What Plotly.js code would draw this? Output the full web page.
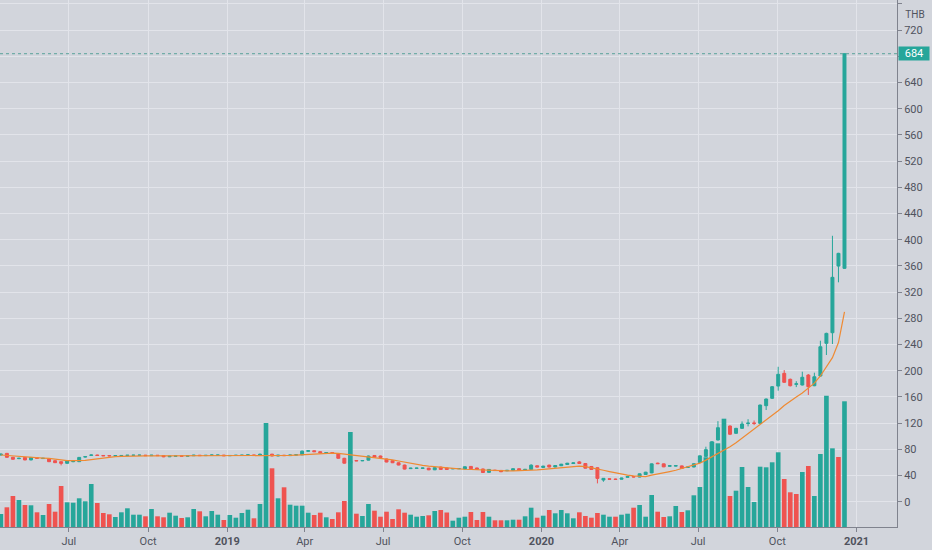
<!DOCTYPE html>
<html>
<head>
<meta charset="utf-8">
<script src="https://cdn.plot.ly/plotly-3.0.1.min.js"></script>
<style>
html,body{margin:0;padding:0;background:#d2d5dc;}
#chart{width:932px;height:550px;}
</style>
</head>
<body>
<div id="chart"></div>
<script>
// Weekly bars, first bar week of 2018-04-13, 141 bars
const firstWeek = '2018-04-13';
const barCount = 141;

const openP = [71.3,73.8,67.8,65.8,67.7,63.8,67.0,65.9,65.2,62.6,61.1,58.6,61.1,61.1,68.2,70.8,71.3,70.6,70.4,70.0,
70.2,70.4,70.8,70.8,71.1,70.3,71.0,70.5,68.6,69.5,70.0,69.6,70.2,71.0,70.4,70.8,71.0,71.2,70.2,70.6,
70.6,71.0,71.5,70.5,72.0,72.6,69.8,71.0,70.4,71.3,71.5,77.0,77.8,76.4,74.4,75.0,73.5,66.3,58.8,62.9,
62.4,63.5,70.6,69.8,65.2,62.6,59.5,56.0,50.5,51.0,51.0,51.3,48.7,52.9,51.5,50.2,50.3,50.0,53.9,51.5,
50.0,44.8,48.2,47.8,47.2,47.8,50.4,48.9,49.3,54.9,52.3,55.9,53.0,54.9,56.8,58.3,60.8,58.3,53.8,51.9,
33.1,35.0,34.6,34.3,37.2,38.5,37.6,41.5,44.0,58.9,57.8,54.2,54.4,54.7,52.3,53.0,60.0,69.2,79.0,94.2,
112.5,115.6,104.4,112.0,119.4,120.3,119.7,146.6,157.9,176.6,196.0,186.9,179.2,178.2,193.4,177.1,191.9,241.8,258.0,359.8,
356.3];
const highP = [73.5,74.5,68.5,67.0,68.2,68.3,67.6,66.8,65.8,63.2,61.6,63.2,62.3,68.2,69.4,71.9,71.8,71.1,70.9,70.8,
70.9,71.3,71.5,71.6,71.4,71.4,71.3,70.9,69.9,70.4,70.3,70.5,71.5,71.3,71.2,71.8,71.6,71.4,71.0,71.2,
71.4,72.0,71.8,73.5,74.0,73.0,71.4,71.4,71.6,72.0,78.0,78.5,78.2,76.8,75.4,75.4,74.0,67.0,63.5,63.5,
63.4,70.4,71.2,70.4,65.7,63.0,60.0,56.6,51.8,51.8,51.9,51.6,52.5,53.4,52.0,51.0,51.0,53.8,54.4,52.0,
50.5,49.8,48.6,48.2,48.3,50.8,50.9,49.8,57.2,55.4,54.8,56.4,55.6,57.8,59.3,59.8,62.2,58.8,54.3,52.4,
36.2,35.6,35.2,36.6,39.1,39.0,43.1,45.6,58.3,59.6,58.3,55.4,55.5,55.2,53.4,58.5,70.6,84.0,92.2,123.0,
124.0,116.5,112.8,122.6,126.0,124.0,148.2,157.5,176.5,206.0,201.0,188.0,184.0,198.5,195.0,197.0,245.8,258.0,406.0,380.0,
684.5];
const lowP = [70.6,67.2,64.3,65.0,63.3,63.2,65.8,65.4,60.6,59.2,55.5,58.0,60.4,60.8,67.6,70.2,70.1,69.8,69.6,69.7,
69.8,70.0,70.4,70.5,69.9,70.0,70.0,68.0,68.2,69.2,69.2,69.3,69.9,70.0,70.1,70.5,70.6,69.8,69.8,70.2,
70.3,70.6,70.2,70.2,71.4,69.4,69.5,70.0,70.1,71.0,71.2,76.6,76.0,74.2,74.0,74.0,65.8,58.2,58.0,62.0,
62.0,63.0,67.6,67.0,60.2,59.0,55.6,49.2,50.0,50.6,50.6,48.2,48.3,48.8,48.9,49.8,49.9,49.6,50.0,49.0,
43.8,44.3,47.2,45.2,46.8,47.4,47.4,48.6,49.0,52.5,52.0,52.4,52.6,54.5,56.4,57.9,58.0,50.8,48.8,28.0,
30.5,33.8,33.6,33.9,36.8,37.3,37.2,41.1,43.6,57.6,52.8,53.8,54.0,50.3,51.9,52.6,59.6,68.6,78.5,93.6,
110.0,101.8,103.6,111.3,115.0,117.0,119.0,140.0,157.0,169.5,181.5,176.0,175.0,177.5,163.0,176.4,191.0,224.0,240.8,335.0,
355.5];
const closeP = [72.6,67.8,64.8,66.3,63.8,67.6,66.3,66.3,61.1,59.6,58.6,62.6,61.7,67.7,68.8,71.3,70.6,70.1,70.0,70.4,
70.6,71.0,71.0,71.1,70.3,71.0,70.4,68.6,69.5,70.0,69.6,70.2,71.0,70.4,70.8,71.3,71.2,70.2,70.6,70.9,
71.1,71.5,70.5,72.5,73.0,69.8,71.0,70.4,71.3,71.6,77.2,77.8,76.4,74.6,75.0,74.4,66.3,58.8,62.5,62.4,
62.9,69.8,68.0,67.4,60.6,59.5,56.0,49.8,51.2,51.3,51.4,48.7,52.0,49.3,49.3,50.6,50.7,53.4,50.4,49.5,
44.6,49.3,47.6,45.8,47.9,50.4,47.9,49.4,55.8,52.9,54.3,52.9,55.2,57.3,58.8,59.3,58.3,51.2,49.3,35.6,
35.7,34.3,34.0,36.1,38.6,37.8,42.6,45.1,57.8,58.1,53.2,54.9,55.0,50.7,52.9,58.0,70.0,79.5,91.6,113.0,
118.0,103.0,112.0,118.6,120.0,119.5,147.6,156.8,175.6,194.5,182.3,177.1,180.0,190.0,175.6,190.8,236.6,257.0,342.6,379.2,
684.0];
// volume (relative units) and its colour (1 = up / teal, 0 = down / red)
const volume = [13,19.7,31,27,22,21.7,14.7,12,23,15.3,41,24.7,24.3,28.7,25.7,43,24,14,12.7,10,
14.7,18.7,12.3,12.3,10.7,18,10.7,9.7,14.3,11.3,9,9.7,18,15.7,10.7,16,12.3,7,12,9.3,
14,17.3,8.7,23,104,58.7,28.7,39.7,22.3,21.3,21.3,14.3,12,14.3,9.7,8,14.7,26,95,13.3,
11,23,16.3,10.3,15.3,8,17.7,14.3,12.3,10.3,11,11.7,16,17,14.5,6.3,9.3,10.3,15,7,
15,10.3,6.7,6.7,6.7,7.3,7.3,10.7,19.3,9.3,11.3,17,13.7,17,13.7,8.7,14.7,11,9.3,14,
12.3,10.3,10.3,12.3,13.3,19.3,22,10.3,32,15.3,10,10.7,21,15,16.7,31.7,40,69.7,85,83.7,
108.3,31,36.3,60,40,25,60.3,59.7,64.7,74.7,48,34.7,33,55,61,31,73,131.3,78.7,70,
125.7];
const volumeUp = [1,0,0,1,0,1,0,1,0,0,0,1,1,1,1,1,0,0,0,1,
1,1,1,1,0,1,0,0,1,1,0,1,1,0,1,1,1,0,1,1,
1,1,0,1,1,0,1,0,1,1,1,1,0,0,1,0,0,0,1,0,
1,1,0,0,0,0,0,0,1,1,1,0,1,0,0,1,1,1,0,0,
0,1,0,0,1,1,0,1,1,0,1,0,1,1,1,1,0,0,0,0,
1,1,0,1,1,0,1,1,1,0,0,1,1,0,1,1,1,1,1,1,
1,0,1,1,1,1,1,1,1,1,0,0,0,1,0,1,1,1,1,0,
1];
// orange moving average line
const maLine = [71.3,70.5,69.8,69.0,68.3,67.8,67.2,66.7,66.2,65.0,63.8,62.8,62.6,62.6,63.0,64.2,65.5,66.8,67.8,68.7,
69.2,69.6,69.8,69.9,70.0,70.0,70.0,70.0,69.9,69.9,69.9,70.0,70.0,70.1,70.1,70.1,70.2,70.2,70.2,70.3,
70.3,70.3,70.3,70.4,70.5,70.6,70.6,70.7,70.7,71.2,71.8,72.5,73.2,73.7,74.0,74.2,73.8,72.8,71.8,70.6,
69.5,68.6,67.6,66.6,65.2,63.8,62.2,60.3,58.6,57.0,55.6,54.3,53.3,52.4,51.6,50.8,50.2,49.6,49.1,48.6,
48.1,47.8,47.5,47.3,47.2,47.2,47.3,47.5,48.0,48.6,49.3,50.1,51.0,52.0,53.0,53.8,54.2,53.5,52.0,50.0,
48.0,46.0,44.0,42.2,40.6,39.4,38.6,38.3,40.5,42.0,44.0,46.0,48.0,50.5,53.0,55.5,58.8,63.5,68.5,73.8,
79.0,84.0,90.0,97.0,103.5,111.0,118.0,125.0,132.0,139.0,147.0,154.0,160.0,166.0,173.0,181.0,192.0,206.0,220.0,243.0,
290.0];

const tickDates = ['2018-07-01','2018-10-01','2019-01-01','2019-04-01','2019-07-01','2019-10-01','2020-01-01','2020-04-01','2020-07-01','2020-10-01','2021-01-01'];
const tickLabels = ['Jul','Oct','<b>2019</b>','Apr','Jul','Oct','<b>2020</b>','Apr','Jul','Oct','<b>2021</b>'];
const priceTicks = [0,40,80,120,160,200,240,280,320,360,400,440,480,520,560,600,640,680,720,760];
// 680 sits under the last-price marker, so its text is not shown
const priceLabels = ['0','40','80','120','160','200','240','280','320','360','400','440','480','520','560','600','640','','720','760'];
const lastPrice = 684;
const currency = 'THB';

// x positions: one weekly bar each
const start = Date.parse(firstWeek + 'T00:00:00Z');
const dates = [];
for (let i = 0; i < barCount; i++) {
  dates.push(new Date(start + i * 7 * 864e5).toISOString().slice(0, 10));
}

const UP = '#26a69a', DOWN = '#ef5350';
const BG = '#d2d5dc', GRID = '#e2e4ea', AXIS = '#80838e', TXT = '#50535e';

const volTrace = {
  type: 'bar', x: dates, y: volume, yaxis: 'y', xaxis: 'x',
  marker: { color: volumeUp.map(u => u ? UP : DOWN), line: { width: 0 } },
  width: 5.4 * 864e5, hoverinfo: 'skip', showlegend: false
};
const candleTrace = {
  type: 'candlestick', x: dates, open: openP, high: highP, low: lowP, close: closeP,
  xaxis: 'x', yaxis: 'y2', whiskerwidth: 0,
  increasing: { line: { color: UP, width: 1 }, fillcolor: UP },
  decreasing: { line: { color: DOWN, width: 1 }, fillcolor: DOWN },
  hoverinfo: 'skip', showlegend: false
};
const maTrace = {
  type: 'scatter', mode: 'lines', x: dates, y: maLine, xaxis: 'x', yaxis: 'y2',
  line: { color: '#ef8a32', width: 1.2 }, hoverinfo: 'skip', showlegend: false
};

const layout = {
  width: 932, height: 550,
  margin: { l: 0, r: 35, t: 0, b: 23 },
  paper_bgcolor: BG, plot_bgcolor: BG,
  font: { family: 'Roboto, "Noto Sans", sans-serif', color: TXT, size: 11 },
  showlegend: false,
  xaxis: {
    type: 'date', range: ['2018-04-12', '2021-02-17'],
    tickvals: tickDates, ticktext: tickLabels,
    showgrid: true, gridcolor: GRID, gridwidth: 1,
    ticks: 'outside', ticklen: 4, tickcolor: AXIS,
    showline: true, linecolor: AXIS, linewidth: 1,
    tickfont: { size: 11, color: TXT },
    rangeslider: { visible: false }, fixedrange: true, zeroline: false
  },
  yaxis: {
    range: [0, 527], visible: false, showgrid: false, zeroline: false, fixedrange: true
  },
  yaxis2: {
    overlaying: 'y', side: 'right', range: [-38.6, 766],
    tickvals: priceTicks, ticktext: priceLabels,
    showgrid: true, gridcolor: GRID, gridwidth: 1,
    ticks: 'outside', ticklen: 4, tickcolor: AXIS,
    showline: true, linecolor: AXIS, linewidth: 1,
    tickfont: { size: 11, color: TXT }, zeroline: false, fixedrange: true
  },
  shapes: [{
    type: 'line', xref: 'paper', x0: 0, x1: 1, yref: 'y2', y0: lastPrice, y1: lastPrice,
    line: { color: '#5aa39b', width: 1, dash: 'dot' }
  }],
  annotations: [
    { xref: 'paper', yref: 'y2', x: 1, y: lastPrice, xanchor: 'left', yanchor: 'middle',
      text: String(lastPrice), showarrow: false, bgcolor: UP, width: 30, height: 13,
      font: { color: '#ffffff', size: 11 }, borderpad: 0, xshift: 1 },
    { xref: 'paper', yref: 'paper', x: 1, y: 1, xanchor: 'left', yanchor: 'top',
      text: currency, showarrow: false, bgcolor: BG, width: 30, height: 12,
      font: { color: TXT, size: 10 }, borderpad: 0, xshift: 2, yshift: -7 }
  ]
};

Plotly.newPlot('chart', [volTrace, candleTrace, maTrace], layout, { staticPlot: true, displayModeBar: false });
</script>
</body>
</html>
